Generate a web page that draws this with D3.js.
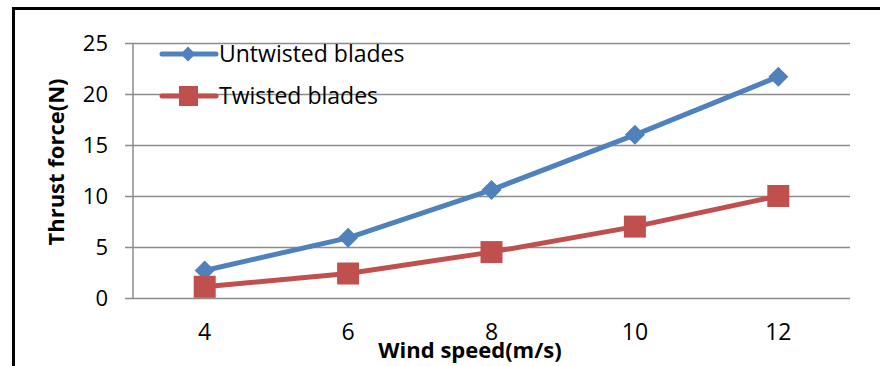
<!DOCTYPE html>
<html><head><meta charset="utf-8">
<script src="https://cdn.jsdelivr.net/npm/d3@7"></script>
<style>body{margin:0;background:#fff;}svg{display:block;}</style>
</head><body>
<svg id="c" width="880" height="366"></svg>
<script>
const categories = ["4","6","8","10","12"];
const untwisted = [2.7, 5.9, 10.6, 16.0, 21.7];
const twisted = [1.1, 2.4, 4.5, 7.0, 10.0];
const yTicks = [0,5,10,15,20,25];
const seriesNames = ["Untwisted blades","Twisted blades"];
const colors = ["#4F81BD","#C0504D"];
const font = "'Open Sans', 'Liberation Sans', sans-serif";

const svg = d3.select("#c");
// outer frame
svg.append("line").attr("x1",13.5).attr("x2",13.5).attr("y1",7).attr("y2",366).attr("stroke","#000").attr("stroke-width",3);
svg.append("line").attr("x1",12).attr("x2",880).attr("y1",8.5).attr("y2",8.5).attr("stroke","#000").attr("stroke-width",3);

const x = d3.scaleBand().domain(categories).range([133,850]);
const y = d3.scaleLinear().domain([0,25]).range([298,43]);

// gridlines
const yAxis = d3.axisLeft(y).tickValues(yTicks).tickSize(-(850-125)).tickFormat(d3.format("d"));
const gy = svg.append("g").attr("transform","translate(125,0)").call(yAxis);
gy.select(".domain").remove();
gy.selectAll(".tick line").attr("stroke","#8c8c8c").attr("stroke-width",1.5);
gy.selectAll(".tick text").attr("font-family",font).attr("font-size",22).attr("fill","#000").attr("x",-17).attr("dy","0.35em");
// y axis line
svg.append("line").attr("x1",133).attr("x2",133).attr("y1",43).attr("y2",298).attr("stroke","#8c8c8c").attr("stroke-width",1.5);

const xAxis = d3.axisBottom(x).tickSize(0).tickPadding(0);
const gx = svg.append("g").attr("transform","translate(0,298)").call(xAxis);
gx.select(".domain").remove();
gx.selectAll(".tick text").attr("font-family",font).attr("font-size",23).attr("fill","#000").attr("y",42).attr("dy",0);

// titles
svg.append("text").attr("x",470).attr("y",358).attr("text-anchor","middle").attr("font-family",font).attr("font-weight","bold").attr("font-size",22).text("Wind speed(m/s)");
svg.append("text").attr("transform","translate(64,162) rotate(-90)").attr("text-anchor","middle").attr("font-family",font).attr("font-weight","bold").attr("font-size",22).text("Thrust force(N)");

const cx = d => x(d) + x.bandwidth()/2;
const line = d3.line().x((d,i)=>cx(categories[i])).y(d=>y(d));
const diamond = d3.symbol().type(d3.symbolSquare).size(200);
const diamondSmall = d3.symbol().type(d3.symbolSquare).size(110);

function drawSeries(vals, color, isDiamond){
  svg.append("path").datum(vals).attr("d",line).attr("fill","none").attr("stroke",color).attr("stroke-width",5).attr("stroke-linejoin","round");
  const g = svg.append("g");
  vals.forEach((v,i)=>{
    if(isDiamond){
      g.append("path").attr("d",diamond()).attr("transform",`translate(${cx(categories[i])},${y(v)}) rotate(45)`).attr("fill",color);
    } else {
      g.append("rect").attr("x",cx(categories[i])-11).attr("y",y(v)-11).attr("width",22).attr("height",22).attr("fill",color);
    }
  });
}
drawSeries(untwisted, colors[0], true);
drawSeries(twisted, colors[1], false);

// legend
const legY = [54, 96];
seriesNames.forEach((name,i)=>{
  const g = svg.append("g");
  g.append("line").attr("x1",162).attr("x2",216).attr("y1",legY[i]).attr("y2",legY[i]).attr("stroke",colors[i]).attr("stroke-width",5).attr("stroke-linecap","round");
  if(i===0){
    g.append("path").attr("d",diamondSmall()).attr("transform",`translate(188,${legY[i]}) rotate(45)`).attr("fill",colors[i]);
  } else {
    g.append("rect").attr("x",179).attr("y",legY[i]-10).attr("width",19).attr("height",20).attr("fill",colors[i]);
  }
  g.append("text").attr("x",219).attr("y",legY[i]).attr("dy","0.35em").attr("font-family",font).attr("font-size",23).attr("fill","#000").text(name);
});
</script>
</body></html>
